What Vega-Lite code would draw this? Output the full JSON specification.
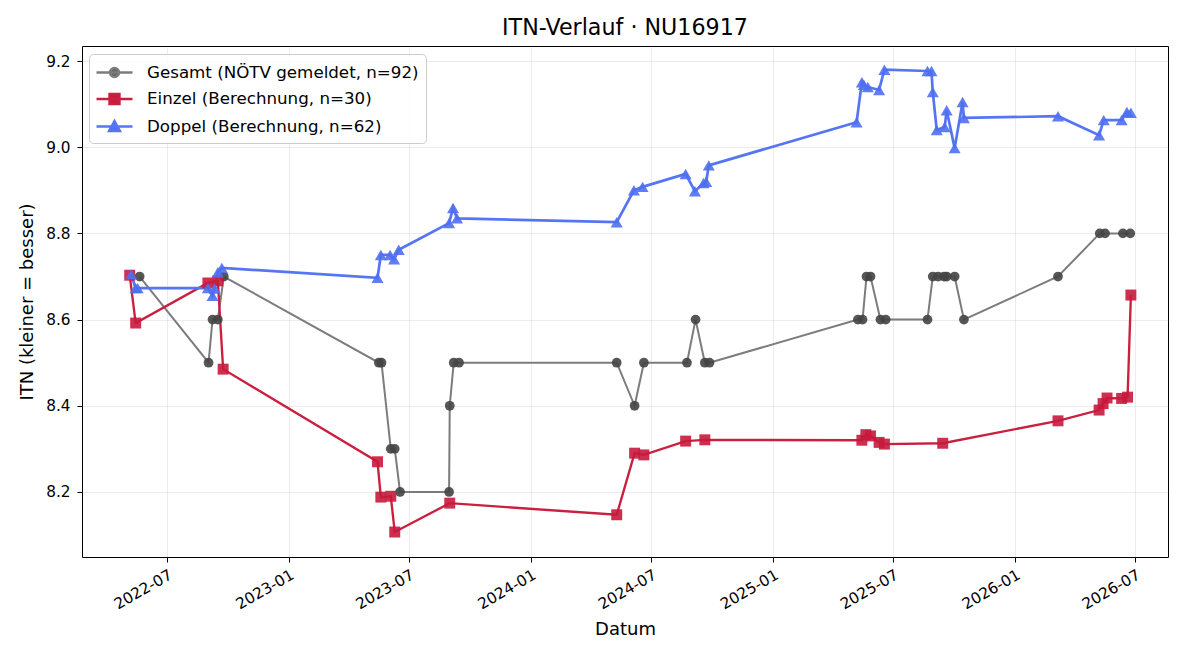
{
  "$schema": "https://vega.github.io/schema/vega-lite/v6.json",
  "width": 1086,
  "height": 511,
  "autosize": {"type": "none"},
  "padding": {"left": 82, "top": 46, "right": 32, "bottom": 103},
  "background": "white",
  "config": {
    "font": "DejaVu Sans",
    "view": {"stroke": "black", "strokeWidth": 1},
    "axis": {"domain": false, "tickColor": "black", "tickSize": 5, "labelColor": "black", "labelFontSize": 15.3, "labelFont": "DejaVu Sans", "titleFont": "DejaVu Sans", "titleFontSize": 18, "titleFontWeight": "normal", "titleColor": "black", "gridColor": "#b0b0b0", "gridOpacity": 0.3, "gridWidth": 0.8}
  },
  "title": {"text": "ITN-Verlauf · NU16917", "fontSize": 22.2, "font": "DejaVu Sans", "fontWeight": "normal", "color": "black", "offset": 7, "anchor": "middle"},
  "data": {"values": [
    {"series": "Gesamt (NÖTV gemeldet, n=92)", "date": "2022-05-21", "itn": 8.7},
    {"series": "Gesamt (NÖTV gemeldet, n=92)", "date": "2022-09-02", "itn": 8.5},
    {"series": "Gesamt (NÖTV gemeldet, n=92)", "date": "2022-09-08", "itn": 8.6},
    {"series": "Gesamt (NÖTV gemeldet, n=92)", "date": "2022-09-16", "itn": 8.6},
    {"series": "Gesamt (NÖTV gemeldet, n=92)", "date": "2022-09-25", "itn": 8.7},
    {"series": "Gesamt (NÖTV gemeldet, n=92)", "date": "2023-05-17", "itn": 8.5},
    {"series": "Gesamt (NÖTV gemeldet, n=92)", "date": "2023-05-21", "itn": 8.5},
    {"series": "Gesamt (NÖTV gemeldet, n=92)", "date": "2023-06-04", "itn": 8.3},
    {"series": "Gesamt (NÖTV gemeldet, n=92)", "date": "2023-06-10", "itn": 8.3},
    {"series": "Gesamt (NÖTV gemeldet, n=92)", "date": "2023-06-18", "itn": 8.2},
    {"series": "Gesamt (NÖTV gemeldet, n=92)", "date": "2023-08-31", "itn": 8.2},
    {"series": "Gesamt (NÖTV gemeldet, n=92)", "date": "2023-09-01", "itn": 8.4},
    {"series": "Gesamt (NÖTV gemeldet, n=92)", "date": "2023-09-07", "itn": 8.5},
    {"series": "Gesamt (NÖTV gemeldet, n=92)", "date": "2023-09-15", "itn": 8.5},
    {"series": "Gesamt (NÖTV gemeldet, n=92)", "date": "2024-05-10", "itn": 8.5},
    {"series": "Gesamt (NÖTV gemeldet, n=92)", "date": "2024-06-06", "itn": 8.4},
    {"series": "Gesamt (NÖTV gemeldet, n=92)", "date": "2024-06-20", "itn": 8.5},
    {"series": "Gesamt (NÖTV gemeldet, n=92)", "date": "2024-08-24", "itn": 8.5},
    {"series": "Gesamt (NÖTV gemeldet, n=92)", "date": "2024-09-06", "itn": 8.6},
    {"series": "Gesamt (NÖTV gemeldet, n=92)", "date": "2024-09-20", "itn": 8.5},
    {"series": "Gesamt (NÖTV gemeldet, n=92)", "date": "2024-09-27", "itn": 8.5},
    {"series": "Gesamt (NÖTV gemeldet, n=92)", "date": "2025-05-09", "itn": 8.6},
    {"series": "Gesamt (NÖTV gemeldet, n=92)", "date": "2025-05-16", "itn": 8.6},
    {"series": "Gesamt (NÖTV gemeldet, n=92)", "date": "2025-05-22", "itn": 8.7},
    {"series": "Gesamt (NÖTV gemeldet, n=92)", "date": "2025-05-28", "itn": 8.7},
    {"series": "Gesamt (NÖTV gemeldet, n=92)", "date": "2025-06-12", "itn": 8.6},
    {"series": "Gesamt (NÖTV gemeldet, n=92)", "date": "2025-06-20", "itn": 8.6},
    {"series": "Gesamt (NÖTV gemeldet, n=92)", "date": "2025-08-22", "itn": 8.6},
    {"series": "Gesamt (NÖTV gemeldet, n=92)", "date": "2025-08-30", "itn": 8.7},
    {"series": "Gesamt (NÖTV gemeldet, n=92)", "date": "2025-09-07", "itn": 8.7},
    {"series": "Gesamt (NÖTV gemeldet, n=92)", "date": "2025-09-16", "itn": 8.7},
    {"series": "Gesamt (NÖTV gemeldet, n=92)", "date": "2025-09-20", "itn": 8.7},
    {"series": "Gesamt (NÖTV gemeldet, n=92)", "date": "2025-10-02", "itn": 8.7},
    {"series": "Gesamt (NÖTV gemeldet, n=92)", "date": "2025-10-16", "itn": 8.6},
    {"series": "Gesamt (NÖTV gemeldet, n=92)", "date": "2026-03-07", "itn": 8.7},
    {"series": "Gesamt (NÖTV gemeldet, n=92)", "date": "2026-05-09", "itn": 8.8},
    {"series": "Gesamt (NÖTV gemeldet, n=92)", "date": "2026-05-17", "itn": 8.8},
    {"series": "Gesamt (NÖTV gemeldet, n=92)", "date": "2026-06-13", "itn": 8.8},
    {"series": "Gesamt (NÖTV gemeldet, n=92)", "date": "2026-06-24", "itn": 8.8},
    {"series": "Einzel (Berechnung, n=30)", "date": "2022-05-06", "itn": 8.703},
    {"series": "Einzel (Berechnung, n=30)", "date": "2022-05-15", "itn": 8.592},
    {"series": "Einzel (Berechnung, n=30)", "date": "2022-09-01", "itn": 8.685},
    {"series": "Einzel (Berechnung, n=30)", "date": "2022-09-16", "itn": 8.69},
    {"series": "Einzel (Berechnung, n=30)", "date": "2022-09-24", "itn": 8.485},
    {"series": "Einzel (Berechnung, n=30)", "date": "2023-05-15", "itn": 8.27},
    {"series": "Einzel (Berechnung, n=30)", "date": "2023-05-20", "itn": 8.188},
    {"series": "Einzel (Berechnung, n=30)", "date": "2023-06-04", "itn": 8.19},
    {"series": "Einzel (Berechnung, n=30)", "date": "2023-06-10", "itn": 8.107},
    {"series": "Einzel (Berechnung, n=30)", "date": "2023-09-01", "itn": 8.174},
    {"series": "Einzel (Berechnung, n=30)", "date": "2024-05-10", "itn": 8.147},
    {"series": "Einzel (Berechnung, n=30)", "date": "2024-06-06", "itn": 8.29},
    {"series": "Einzel (Berechnung, n=30)", "date": "2024-06-20", "itn": 8.286},
    {"series": "Einzel (Berechnung, n=30)", "date": "2024-08-22", "itn": 8.318},
    {"series": "Einzel (Berechnung, n=30)", "date": "2024-09-20", "itn": 8.321},
    {"series": "Einzel (Berechnung, n=30)", "date": "2025-05-15", "itn": 8.32},
    {"series": "Einzel (Berechnung, n=30)", "date": "2025-05-21", "itn": 8.333},
    {"series": "Einzel (Berechnung, n=30)", "date": "2025-05-28", "itn": 8.33},
    {"series": "Einzel (Berechnung, n=30)", "date": "2025-06-10", "itn": 8.315},
    {"series": "Einzel (Berechnung, n=30)", "date": "2025-06-18", "itn": 8.311},
    {"series": "Einzel (Berechnung, n=30)", "date": "2025-09-14", "itn": 8.313},
    {"series": "Einzel (Berechnung, n=30)", "date": "2026-03-07", "itn": 8.365},
    {"series": "Einzel (Berechnung, n=30)", "date": "2026-05-08", "itn": 8.39},
    {"series": "Einzel (Berechnung, n=30)", "date": "2026-05-14", "itn": 8.405},
    {"series": "Einzel (Berechnung, n=30)", "date": "2026-05-20", "itn": 8.418},
    {"series": "Einzel (Berechnung, n=30)", "date": "2026-06-11", "itn": 8.417},
    {"series": "Einzel (Berechnung, n=30)", "date": "2026-06-20", "itn": 8.42},
    {"series": "Einzel (Berechnung, n=30)", "date": "2026-06-25", "itn": 8.657},
    {"series": "Doppel (Berechnung, n=62)", "date": "2022-05-08", "itn": 8.705},
    {"series": "Doppel (Berechnung, n=62)", "date": "2022-05-15", "itn": 8.673},
    {"series": "Doppel (Berechnung, n=62)", "date": "2022-05-18", "itn": 8.673},
    {"series": "Doppel (Berechnung, n=62)", "date": "2022-09-01", "itn": 8.673},
    {"series": "Doppel (Berechnung, n=62)", "date": "2022-09-08", "itn": 8.655},
    {"series": "Doppel (Berechnung, n=62)", "date": "2022-09-11", "itn": 8.672},
    {"series": "Doppel (Berechnung, n=62)", "date": "2022-09-16", "itn": 8.71},
    {"series": "Doppel (Berechnung, n=62)", "date": "2022-09-22", "itn": 8.72},
    {"series": "Doppel (Berechnung, n=62)", "date": "2023-05-15", "itn": 8.697},
    {"series": "Doppel (Berechnung, n=62)", "date": "2023-05-20", "itn": 8.75},
    {"series": "Doppel (Berechnung, n=62)", "date": "2023-06-03", "itn": 8.75},
    {"series": "Doppel (Berechnung, n=62)", "date": "2023-06-09", "itn": 8.74},
    {"series": "Doppel (Berechnung, n=62)", "date": "2023-06-16", "itn": 8.762},
    {"series": "Doppel (Berechnung, n=62)", "date": "2023-08-31", "itn": 8.824},
    {"series": "Doppel (Berechnung, n=62)", "date": "2023-09-06", "itn": 8.859},
    {"series": "Doppel (Berechnung, n=62)", "date": "2023-09-12", "itn": 8.835},
    {"series": "Doppel (Berechnung, n=62)", "date": "2024-05-10", "itn": 8.826},
    {"series": "Doppel (Berechnung, n=62)", "date": "2024-06-05", "itn": 8.9},
    {"series": "Doppel (Berechnung, n=62)", "date": "2024-06-18", "itn": 8.908},
    {"series": "Doppel (Berechnung, n=62)", "date": "2024-08-22", "itn": 8.938},
    {"series": "Doppel (Berechnung, n=62)", "date": "2024-09-05", "itn": 8.898},
    {"series": "Doppel (Berechnung, n=62)", "date": "2024-09-18", "itn": 8.917},
    {"series": "Doppel (Berechnung, n=62)", "date": "2024-09-22", "itn": 8.92},
    {"series": "Doppel (Berechnung, n=62)", "date": "2024-09-26", "itn": 8.958},
    {"series": "Doppel (Berechnung, n=62)", "date": "2025-05-07", "itn": 9.058},
    {"series": "Doppel (Berechnung, n=62)", "date": "2025-05-15", "itn": 9.151},
    {"series": "Doppel (Berechnung, n=62)", "date": "2025-05-18", "itn": 9.145},
    {"series": "Doppel (Berechnung, n=62)", "date": "2025-05-24", "itn": 9.14},
    {"series": "Doppel (Berechnung, n=62)", "date": "2025-06-10", "itn": 9.133},
    {"series": "Doppel (Berechnung, n=62)", "date": "2025-06-18", "itn": 9.18},
    {"series": "Doppel (Berechnung, n=62)", "date": "2025-08-22", "itn": 9.177},
    {"series": "Doppel (Berechnung, n=62)", "date": "2025-08-28", "itn": 9.177},
    {"series": "Doppel (Berechnung, n=62)", "date": "2025-08-30", "itn": 9.128},
    {"series": "Doppel (Berechnung, n=62)", "date": "2025-09-05", "itn": 9.04},
    {"series": "Doppel (Berechnung, n=62)", "date": "2025-09-17", "itn": 9.047},
    {"series": "Doppel (Berechnung, n=62)", "date": "2025-09-20", "itn": 9.086},
    {"series": "Doppel (Berechnung, n=62)", "date": "2025-10-02", "itn": 8.998},
    {"series": "Doppel (Berechnung, n=62)", "date": "2025-10-14", "itn": 9.105},
    {"series": "Doppel (Berechnung, n=62)", "date": "2025-10-16", "itn": 9.068},
    {"series": "Doppel (Berechnung, n=62)", "date": "2026-03-07", "itn": 9.072},
    {"series": "Doppel (Berechnung, n=62)", "date": "2026-05-08", "itn": 9.028},
    {"series": "Doppel (Berechnung, n=62)", "date": "2026-05-15", "itn": 9.063},
    {"series": "Doppel (Berechnung, n=62)", "date": "2026-06-11", "itn": 9.063},
    {"series": "Doppel (Berechnung, n=62)", "date": "2026-06-19", "itn": 9.082},
    {"series": "Doppel (Berechnung, n=62)", "date": "2026-06-25", "itn": 9.08}
  ]},
  "encoding": {
    "x": {"field": "date", "type": "temporal",
      "scale": {"type": "utc", "domain": [{"year": 2022, "month": 2, "date": 23, "utc": true}, {"year": 2026, "month": 8, "date": 20, "utc": true}]},
      "axis": {"title": "Datum", "format": "%Y-%m", "labelAngle": -30, "labelAlign": "right", "labelBaseline": "top", "labelPadding": 5, "titlePadding": 8,
        "values": [
          {"year": 2022, "month": 7, "date": 1, "utc": true},
          {"year": 2023, "month": 1, "date": 1, "utc": true},
          {"year": 2023, "month": 7, "date": 1, "utc": true},
          {"year": 2024, "month": 1, "date": 1, "utc": true},
          {"year": 2024, "month": 7, "date": 1, "utc": true},
          {"year": 2025, "month": 1, "date": 1, "utc": true},
          {"year": 2025, "month": 7, "date": 1, "utc": true},
          {"year": 2026, "month": 1, "date": 1, "utc": true},
          {"year": 2026, "month": 7, "date": 1, "utc": true}
        ]}},
    "y": {"field": "itn", "type": "quantitative",
      "scale": {"domain": [8.049, 9.235], "zero": false, "nice": false},
      "axis": {"title": "ITN  (kleiner = besser)", "values": [8.2, 8.4, 8.6, 8.8, 9.0, 9.2], "format": ".1f", "labelPadding": 7, "titlePadding": 9}}
  },
  "layer": [
    {
      "mark": {"type": "line", "clip": true},
      "encoding": {
        "color": {"field": "series", "type": "nominal",
          "scale": {"domain": ["Gesamt (NÖTV gemeldet, n=92)", "Einzel (Berechnung, n=30)", "Doppel (Berechnung, n=62)"], "range": ["#7c7c7c", "#c9203f", "#5575f2"]},
          "legend": {"orient": "none", "legendX": 7, "legendY": 8, "title": null, "symbolSize": 400, "labelFontSize": 16.7, "labelFont": "DejaVu Sans", "labelColor": "black", "labelOffset": 28, "padding": 7, "rowPadding": 5.5, "strokeColor": "#cccccc", "fillColor": "rgba(255,255,255,0.85)", "cornerRadius": 4, "labelLimit": 400,
            "encode": {"symbols": {"update": {
              "shape": {"signal": "datum.value == 'Gesamt (NÖTV gemeldet, n=92)' ? 'M-1.1,0L2.5,0M1.15,0A0.45,0.45,0,1,1,0.25,0A0.45,0.45,0,1,1,1.15,0Z' : datum.value == 'Einzel (Berechnung, n=30)' ? 'M-1.1,0L2.5,0M0.2,-0.5L1.2,-0.5L1.2,0.5L0.2,0.5Z' : 'M-1.1,0L2.5,0M0.7,-0.55L1.25,0.45L0.15,0.45Z'"},
              "fill": {"signal": "datum.value == 'Gesamt (NÖTV gemeldet, n=92)' ? '#666666' : datum.value == 'Einzel (Berechnung, n=30)' ? '#c81a3c' : '#4f6ff2'"},
              "stroke": {"signal": "datum.value == 'Gesamt (NÖTV gemeldet, n=92)' ? '#7c7c7c' : datum.value == 'Einzel (Berechnung, n=30)' ? '#c9203f' : '#5575f2'"},
              "fillOpacity": {"value": 1},
              "strokeWidth": {"value": 2.4},
              "opacity": {"value": 1}
            }}}}
        },
        "strokeWidth": {"field": "series", "type": "nominal", "scale": {"domain": ["Gesamt (NÖTV gemeldet, n=92)", "Einzel (Berechnung, n=30)", "Doppel (Berechnung, n=62)"], "range": [2, 2.7, 2.5]}, "legend": null}
      }
    },
    {
      "mark": {"type": "point", "filled": true, "opacity": 0.9, "clip": true},
      "encoding": {
        "color": {"field": "series", "type": "nominal",
          "scale": {"domain": ["Gesamt (NÖTV gemeldet, n=92)", "Einzel (Berechnung, n=30)", "Doppel (Berechnung, n=62)"], "range": ["#444444", "#c81a3c", "#4f6ff2"]}, "legend": null},
        "shape": {"field": "series", "type": "nominal",
          "scale": {"domain": ["Gesamt (NÖTV gemeldet, n=92)", "Einzel (Berechnung, n=30)", "Doppel (Berechnung, n=62)"], "range": ["circle", "square", "triangle-up"]}, "legend": null},
        "size": {"field": "series", "type": "nominal",
          "scale": {"domain": ["Gesamt (NÖTV gemeldet, n=92)", "Einzel (Berechnung, n=30)", "Doppel (Berechnung, n=62)"], "range": [95, 145, 150]}, "legend": null}
      }
    }
  ],
  "resolve": {"scale": {"color": "independent"}, "legend": {"color": "independent"}}
}
